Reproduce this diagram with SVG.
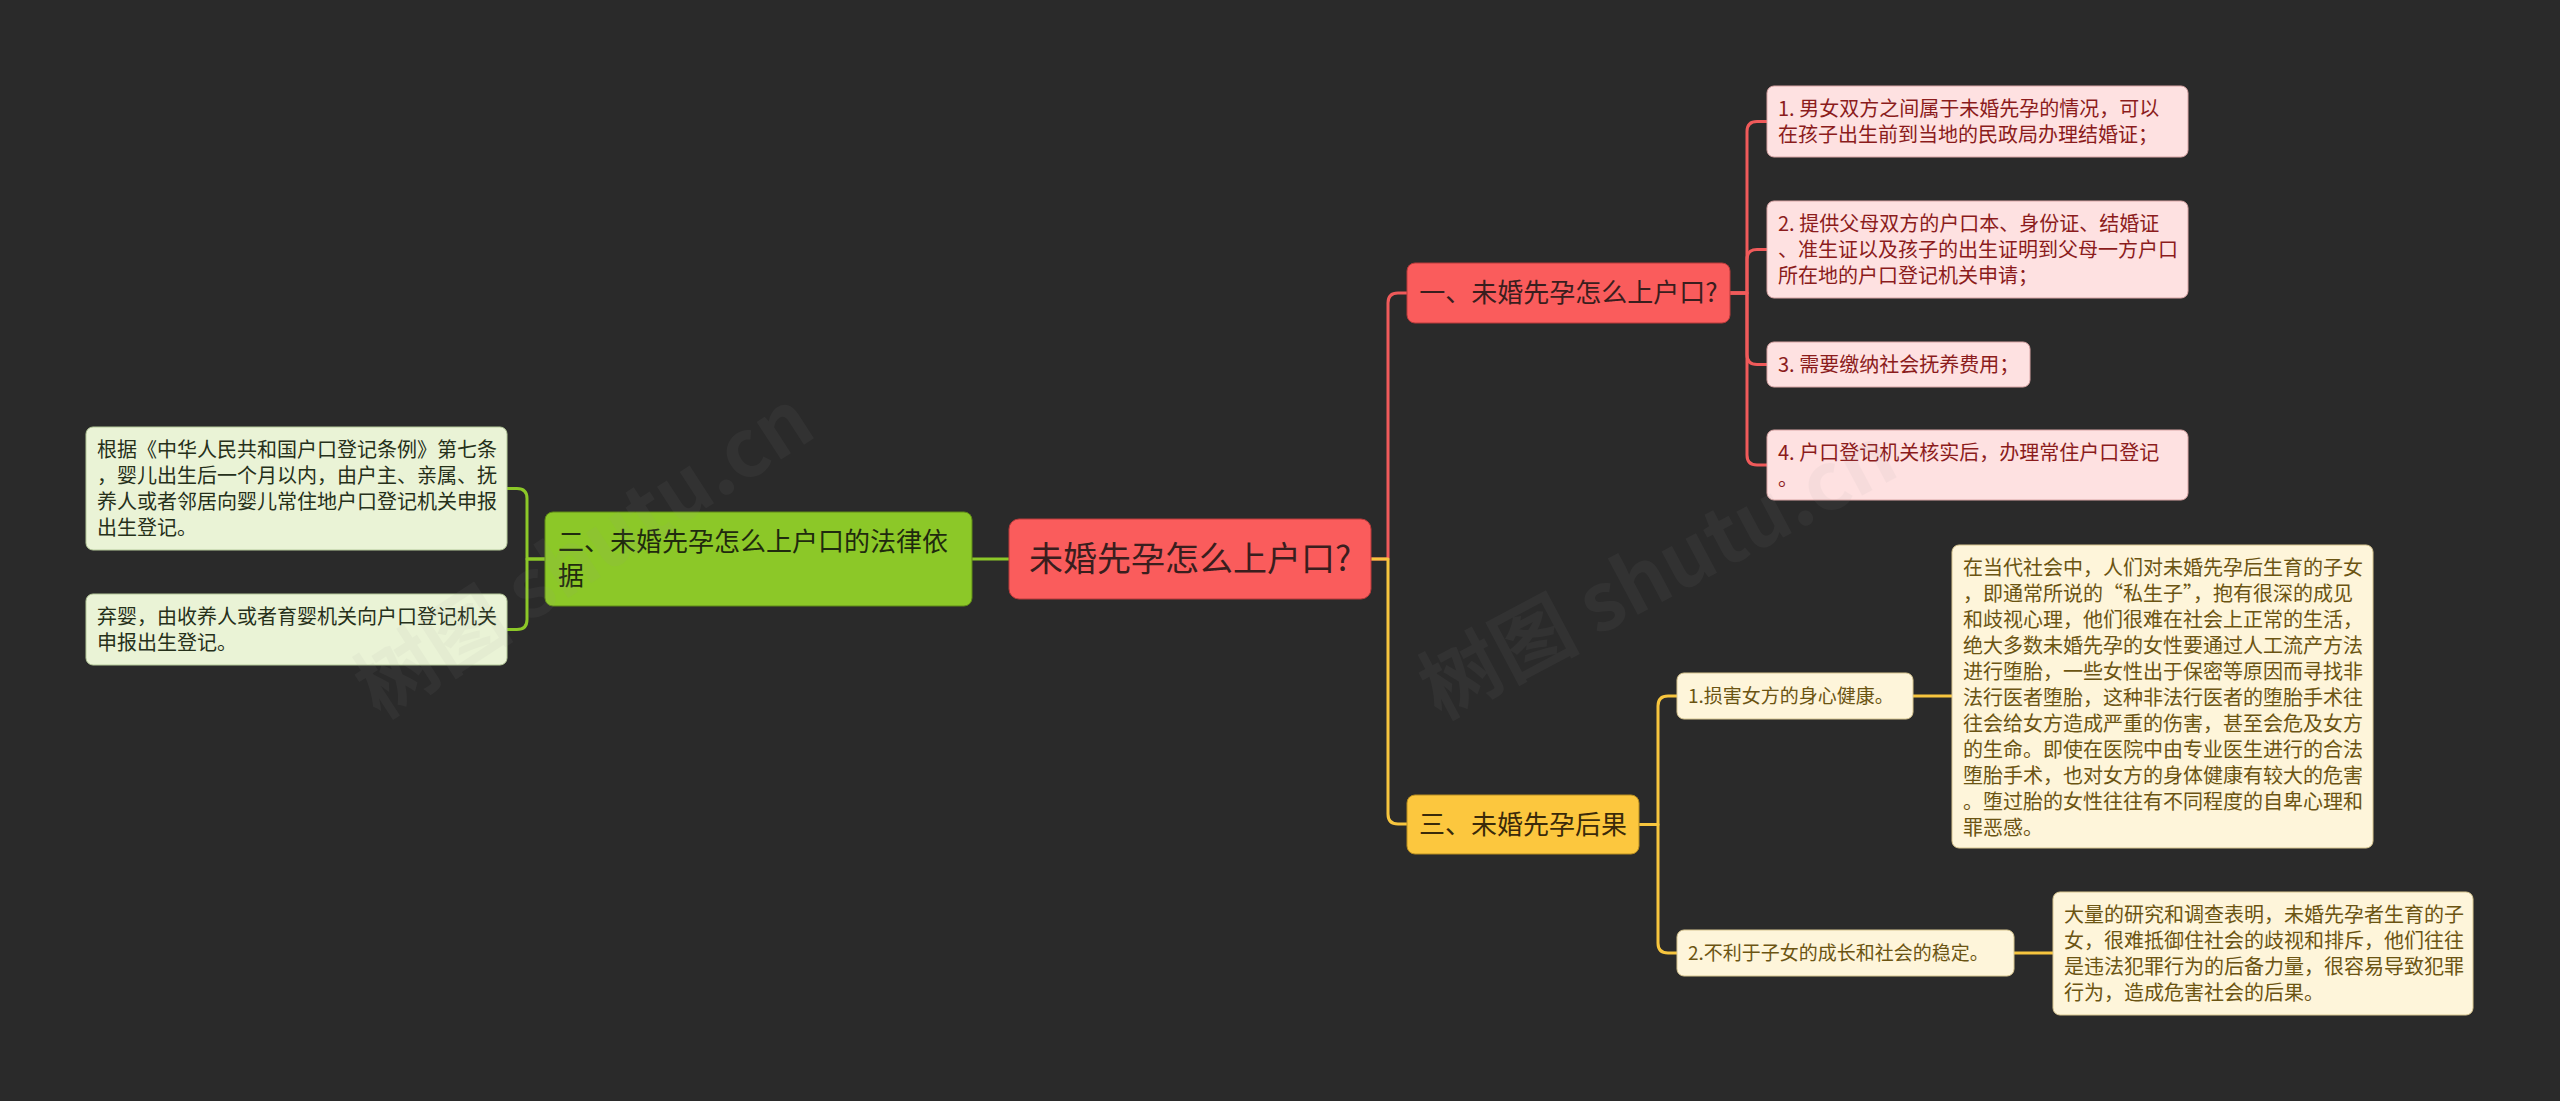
<svg xmlns="http://www.w3.org/2000/svg" width="2560" height="1101" viewBox="0 0 2560 1101">
<style>
text{font-family:"Noto Sans CJK SC","Noto Sans",sans-serif;}
.conn{fill:none;stroke-width:3;stroke-linejoin:round;}
.red{stroke:#F05A5A;}
.grn{stroke:#8CC828;}
.yel{stroke:#F7C53E;}
.root{fill:#FA5C5C;stroke:#B83A3A;stroke-width:1;}
.b1{fill:#FA5C5C;stroke:#B83A3A;stroke-width:1;}
.b2{fill:#8CC828;stroke:#5E8A16;stroke-width:1;}
.b3{fill:#FCC73E;stroke:#B88E20;stroke-width:1;}
.pink{fill:#FEE1E1;stroke:#D9A5A5;stroke-width:1;}
.lgrn{fill:#EAF3D6;stroke:#B5C99A;stroke-width:1;}
.cream{fill:#FEF5DA;stroke:#D8C690;stroke-width:1;}
.tRoot{font-size:34px;fill:#3A1E1E;}
.tB1{font-size:26px;fill:#3A1E1E;}
.tB2{font-size:26px;fill:#1F2A0E;}
.tB3{font-size:26px;fill:#3A2A0A;}
.tPink{font-size:20px;fill:#8B1C1C;}
.tGrn{font-size:20px;fill:#26301A;}
.tCream{font-size:20px;fill:#6B5412;}
.tCream19{font-size:19px;fill:#6B5412;}
.wm{font-size:80px;font-weight:bold;fill:#9a9a9a;opacity:0.07;}
</style>
<rect x="0" y="0" width="2560" height="1101" fill="#2A2A2A"/>

<g id="connectors">
<path class="conn red" d="M1371,559 H1388 V303 Q1388,293 1398,293 H1407"/>
<path class="conn yel" d="M1371,559 H1388 V814 Q1388,824 1398,824 H1407"/>
<path class="conn grn" d="M1009,559 H972"/>
<path class="conn red" d="M1730,293 H1747 V131.5 Q1747,121.5 1757,121.5 H1767"/>
<path class="conn red" d="M1730,293 H1747 V259.5 Q1747,249.5 1757,249.5 H1767"/>
<path class="conn red" d="M1730,293 H1747 V354.5 Q1747,364.5 1757,364.5 H1767"/>
<path class="conn red" d="M1730,293 H1747 V455 Q1747,465 1757,465 H1767"/>
<path class="conn grn" d="M545,559 H527 V498.5 Q527,488.5 517,488.5 H507"/>
<path class="conn grn" d="M545,559 H527 V619.5 Q527,629.5 517,629.5 H507"/>
<path class="conn yel" d="M1639,824.5 H1658 V706 Q1658,696 1668,696 H1677"/>
<path class="conn yel" d="M1639,824.5 H1658 V943 Q1658,953 1668,953 H1677"/>
<path class="conn yel" d="M1913,696 H1952"/>
<path class="conn yel" d="M2014,953 H2053"/>
</g>

<g id="root">
<rect class="root" x="1009" y="519" width="362" height="80" rx="10"/>
<text class="tRoot" x="1190" y="571" text-anchor="middle">未婚先孕怎么上户口?</text>
</g>

<g id="branch1">
<rect class="b1" x="1407" y="263" width="323" height="60" rx="8"/>
<text class="tB1" x="1568.5" y="302" text-anchor="middle">一、未婚先孕怎么上户口?</text>
</g>

<g id="branch2">
<rect class="b2" x="545" y="512" width="427" height="94" rx="8"/>
<text class="tB2" x="558" y="551">二、未婚先孕怎么上户口的法律依</text>
<text class="tB2" x="558" y="585">据</text>
</g>

<g id="branch3">
<rect class="b3" x="1407" y="795" width="232" height="59" rx="8"/>
<text class="tB3" x="1523" y="834" text-anchor="middle">三、未婚先孕后果</text>
</g>

<g id="b1c1">
<rect class="pink" x="1767" y="86" width="421" height="71" rx="7"/>
<text class="tPink" x="1778" y="115.5">1. 男女双方之间属于未婚先孕的情况，可以</text>
<text class="tPink" x="1778" y="141.5">在孩子出生前到当地的民政局办理结婚证；</text>
</g>
<g id="b1c2">
<rect class="pink" x="1767" y="201" width="421" height="97" rx="7"/>
<text class="tPink" x="1778" y="230.5">2. 提供父母双方的户口本、身份证、结婚证</text>
<text class="tPink" x="1778" y="256.5">、准生证以及孩子的出生证明到父母一方户口</text>
<text class="tPink" x="1778" y="282.5">所在地的户口登记机关申请；</text>
</g>
<g id="b1c3">
<rect class="pink" x="1767" y="342" width="263" height="45" rx="7"/>
<text class="tPink" x="1778" y="371.5">3. 需要缴纳社会抚养费用；</text>
</g>
<g id="b1c4">
<rect class="pink" x="1767" y="430" width="421" height="70" rx="7"/>
<text class="tPink" x="1778" y="459.5">4. 户口登记机关核实后，办理常住户口登记</text>
<text class="tPink" x="1778" y="485.5">。</text>
</g>

<g id="b2c1">
<rect class="lgrn" x="86" y="427" width="421" height="123" rx="7"/>
<text class="tGrn" x="97" y="456.5">根据《中华人民共和国户口登记条例》第七条</text>
<text class="tGrn" x="97" y="482.5">，婴儿出生后一个月以内，由户主、亲属、抚</text>
<text class="tGrn" x="97" y="508.5">养人或者邻居向婴儿常住地户口登记机关申报</text>
<text class="tGrn" x="97" y="534.5">出生登记。</text>
</g>
<g id="b2c2">
<rect class="lgrn" x="86" y="594" width="421" height="71" rx="7"/>
<text class="tGrn" x="97" y="623.5">弃婴，由收养人或者育婴机关向户口登记机关</text>
<text class="tGrn" x="97" y="649.5">申报出生登记。</text>
</g>

<g id="b3c1">
<rect class="cream" x="1677" y="673" width="236" height="46" rx="7"/>
<text class="tCream19" x="1688" y="702.7">1.损害女方的身心健康。</text>
</g>
<g id="b3c1d">
<rect class="cream" x="1952" y="545" width="421" height="303" rx="7"/>
<text class="tCream" x="1963" y="574.5">在当代社会中，人们对未婚先孕后生育的子女</text>
<text class="tCream" x="1963" y="600.5">，即通常所说的“私生子”，抱有很深的成见</text>
<text class="tCream" x="1963" y="626.5">和歧视心理，他们很难在社会上正常的生活，</text>
<text class="tCream" x="1963" y="652.5">绝大多数未婚先孕的女性要通过人工流产方法</text>
<text class="tCream" x="1963" y="678.5">进行堕胎，一些女性出于保密等原因而寻找非</text>
<text class="tCream" x="1963" y="704.5">法行医者堕胎，这种非法行医者的堕胎手术往</text>
<text class="tCream" x="1963" y="730.5">往会给女方造成严重的伤害，甚至会危及女方</text>
<text class="tCream" x="1963" y="756.5">的生命。即使在医院中由专业医生进行的合法</text>
<text class="tCream" x="1963" y="782.5">堕胎手术，也对女方的身体健康有较大的危害</text>
<text class="tCream" x="1963" y="808.5">。堕过胎的女性往往有不同程度的自卑心理和</text>
<text class="tCream" x="1963" y="834.5">罪恶感。</text>
</g>
<g id="b3c2">
<rect class="cream" x="1677" y="930" width="337" height="46" rx="7"/>
<text class="tCream19" x="1688" y="959.7">2.不利于子女的成长和社会的稳定。</text>
</g>
<g id="b3c2d">
<rect class="cream" x="2053" y="892" width="420" height="123" rx="7"/>
<text class="tCream" x="2064" y="921.5">大量的研究和调查表明，未婚先孕者生育的子</text>
<text class="tCream" x="2064" y="947.5">女，很难抵御住社会的歧视和排斥，他们往往</text>
<text class="tCream" x="2064" y="973.5">是违法犯罪行为的后备力量，很容易导致犯罪</text>
<text class="tCream" x="2064" y="999.5">行为，造成危害社会的后果。</text>
</g>

<g id="watermarks">
<text class="wm" transform="translate(380,720) rotate(-33)">树图 shutu.cn</text>
<text class="wm" transform="translate(1440,720) rotate(-28)">树图 shutu.cn</text>
</g>
</svg>
